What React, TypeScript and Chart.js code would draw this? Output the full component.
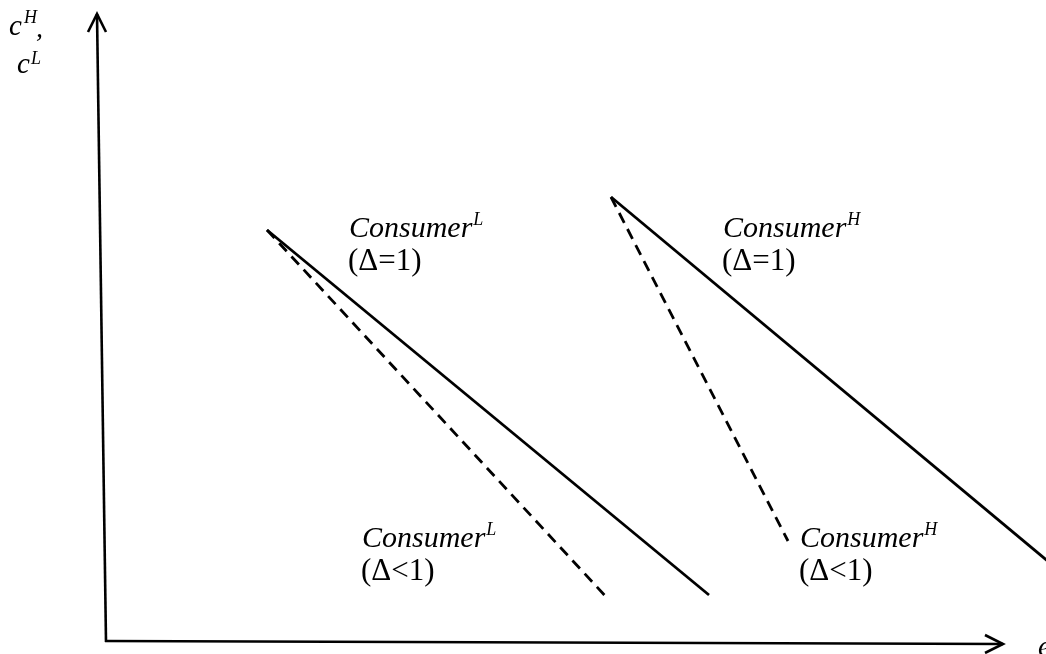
import React, { useEffect, useRef } from "react";
import { Chart, registerables } from "chart.js";

Chart.register(...registerables);

// Data units: e (horizontal) and c (vertical), origin at the axes' corner.
const lowSolidE = [16.1, 60.3];
const lowSolidC = [41.1, 4.6];
const lowDashE = [16.1, 50.3];
const lowDashC = [41.1, 4.1];
const highSolidE = [50.5, 97.4];
const highSolidC = [44.4, 5.3];
const highDashE = [50.5, 68.2];
const highDashC = [44.4, 10.0];

const lineLabels = [
  { name: "Consumer", sup: "L", cond: "(\u0394=1)" },
  { name: "Consumer", sup: "H", cond: "(\u0394=1)" },
  { name: "Consumer", sup: "L", cond: "(\u0394<1)" },
  { name: "Consumer", sup: "H", cond: "(\u0394<1)" },
];
const labelAnchorE = [24.3, 61.7, 25.6, 69.4];
const labelAnchorC = [40.4, 40.4, 9.4, 9.4];

const yAxisE = [0, -0.9];
const yAxisC = [0, 62.7];
const xAxisE = [0, 89.7];
const xAxisC = [0, -0.3];

const pts = (xs: number[], ys: number[]) => xs.map((x, i) => ({ x, y: ys[i] }));

const SERIF = '"Liberation Serif", "DejaVu Serif", serif';

const overlay = {
  id: "overlay",
  afterDraw(chart: any) {
    const ctx = chart.ctx as CanvasRenderingContext2D;
    const xs = chart.scales.x;
    const ys = chart.scales.y;
    const px = (v: number) => xs.getPixelForValue(v);
    const py = (v: number) => ys.getPixelForValue(v);
    ctx.save();
    ctx.strokeStyle = "#000";
    ctx.fillStyle = "#000";
    ctx.lineWidth = 2.6;
    ctx.lineCap = "butt";
    // y axis
    const y0x = px(yAxisE[0]), y0y = py(yAxisC[0]);
    const y1x = px(yAxisE[1]), y1y = py(yAxisC[1]);
    ctx.beginPath();
    ctx.moveTo(y0x, y0y + 1);
    ctx.lineTo(y1x, y1y);
    ctx.stroke();
    ctx.beginPath();
    ctx.moveTo(y1x - 9, y1y + 18);
    ctx.lineTo(y1x, y1y);
    ctx.lineTo(y1x + 9, y1y + 18);
    ctx.stroke();
    // x axis
    const x0x = px(xAxisE[0]), x0y = py(xAxisC[0]);
    const x1x = px(xAxisE[1]), x1y = py(xAxisC[1]);
    ctx.beginPath();
    ctx.moveTo(x0x - 1, x0y);
    ctx.lineTo(x1x, x1y);
    ctx.stroke();
    ctx.beginPath();
    ctx.moveTo(x1x - 18, x1y - 9);
    ctx.lineTo(x1x, x1y);
    ctx.lineTo(x1x - 18, x1y + 9);
    ctx.stroke();

    // line labels
    ctx.textBaseline = "alphabetic";
    ctx.textAlign = "left";
    lineLabels.forEach((lab, i) => {
      const lx = px(labelAnchorE[i]);
      const ly = py(labelAnchorC[i]);
      ctx.font = `italic 30px ${SERIF}`;
      ctx.fillText(lab.name, lx, ly);
      const w = ctx.measureText(lab.name).width;
      ctx.font = `italic 18px ${SERIF}`;
      ctx.fillText(lab.sup, lx + w + 1, ly - 12);
      ctx.font = `31px ${SERIF}`;
      ctx.fillText(lab.cond, lx - 1, ly + 33);
    });

    // axis titles
    ctx.font = `italic 29px ${SERIF}`;
    ctx.fillText("c", 9, 35);
    ctx.fillText("c", 17, 73);
    ctx.font = `italic 18px ${SERIF}`;
    ctx.fillText("H", 24, 23);
    ctx.fillText("L", 31, 64);
    ctx.font = `italic 28px ${SERIF}`;
    ctx.fillText(",", 36, 37);
    ctx.font = `italic 29px ${SERIF}`;
    ctx.fillText("e", 1038, 656);
    ctx.restore();
  },
};

export default function App() {
  const ref = useRef<HTMLCanvasElement | null>(null);
  useEffect(() => {
    if (!ref.current) return;
    const base = {
      type: "line" as const,
      showLine: true,
      pointRadius: 0,
      borderColor: "#000",
      borderWidth: 2.8,
      fill: false,
      tension: 0,
    };
    const chart = new Chart(ref.current, {
      type: "scatter",
      data: {
        datasets: [
          { ...base, label: "Consumer L (Δ=1)", data: pts(lowSolidE, lowSolidC) },
          { ...base, label: "Consumer L (Δ<1)", data: pts(lowDashE, lowDashC), borderDash: [11, 7] },
          { ...base, label: "Consumer H (Δ=1)", data: pts(highSolidE, highSolidC) },
          { ...base, label: "Consumer H (Δ<1)", data: pts(highDashE, highDashC), borderDash: [11, 7] },
        ] as any,
      },
      options: {
        animation: false,
        responsive: false,
        maintainAspectRatio: false,
        layout: { padding: 0 },
        plugins: { legend: { display: false }, tooltip: { enabled: false } },
        scales: {
          x: { type: "linear", min: -10.6, max: 94.0, display: false },
          y: { type: "linear", min: -1.3, max: 64.1, display: false },
        },
      },
      plugins: [overlay],
    });
    return () => chart.destroy();
  }, []);
  return (
    <div style={{ position: "fixed", left: 0, top: 0, width: 1046, height: 654, background: "#fff" }}>
      <canvas ref={ref} width={1046} height={654} style={{ width: 1046, height: 654, display: "block" }} />
    </div>
  );
}
